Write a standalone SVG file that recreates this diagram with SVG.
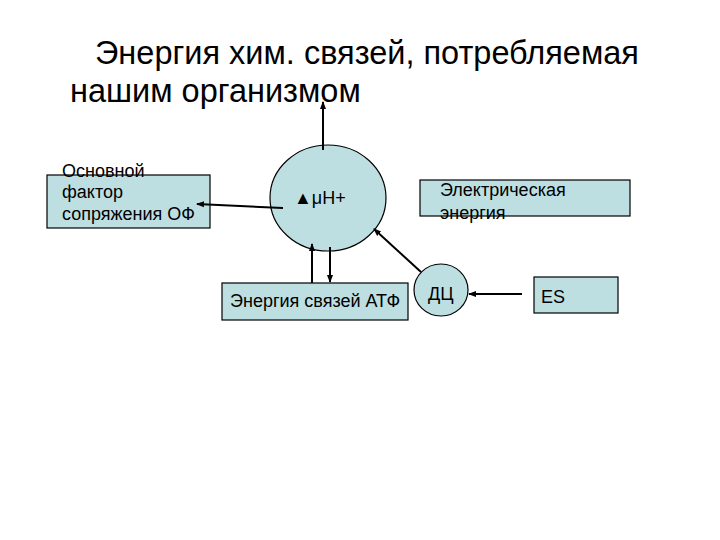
<svg xmlns="http://www.w3.org/2000/svg" width="720" height="540" viewBox="0 0 720 540">
<defs>
<marker id="ah" markerWidth="8" markerHeight="8" refX="7" refY="4" orient="auto" markerUnits="userSpaceOnUse">
<path d="M0,1 L8,4 L0,7 Z" fill="#000"/>
</marker>
<style>
.box{fill:#bddfe2;stroke:#000;stroke-width:1.2}
.t{font-family:"Liberation Sans",Arial,sans-serif;font-size:18px;fill:#000}
.title{font-family:"Liberation Sans",Arial,sans-serif;font-size:32.5px;fill:#000}
.c{stroke:#000;stroke-width:2;fill:none;marker-end:url(#ah)}
</style>
</defs>
<rect width="720" height="540" fill="#fff"/>
<g id="title">
<text class="title" x="95" y="64">Энергия хим. связей, потребляемая</text>
<text class="title" x="70" y="102">нашим организмом</text>
</g>
<g id="factor">
<rect class="box" x="47" y="175" width="163" height="53"/>
<text class="t" x="62" y="177">Основной</text>
<text class="t" x="62" y="198">фактор</text>
<text class="t" x="62" y="220">сопряжения ОФ</text>
</g>
<g id="muH">
<ellipse class="box" cx="328" cy="198" rx="58" ry="53"/>
<text class="t" x="294" y="204">▲μH+</text>
</g>
<g id="atp">
<rect class="box" x="222" y="283" width="186" height="37"/>
<text class="t" x="230" y="307">Энергия связей АТФ</text>
</g>
<g id="electric">
<rect class="box" x="420" y="180" width="210" height="36"/>
<text class="t" x="440" y="196">Электрическая</text>
<text class="t" x="440" y="219">энергия</text>
</g>
<g id="dc">
<ellipse class="box" cx="441" cy="290" rx="27" ry="26"/>
<text class="t" x="428" y="300">ДЦ</text>
</g>
<g id="es">
<rect class="box" x="534" y="277" width="84" height="36"/>
<text class="t" x="541" y="303">ES</text>
</g>
<g id="connectors">
<line class="c" x1="323" y1="150" x2="323" y2="102"/>
<line class="c" x1="283" y1="208" x2="197" y2="204"/>
<line class="c" x1="312" y1="283" x2="312" y2="244"/>
<line class="c" x1="330" y1="247" x2="330" y2="282"/>
<line class="c" x1="421" y1="272" x2="374" y2="229"/>
<line class="c" x1="522" y1="294" x2="469" y2="294"/>
</g>
</svg>
